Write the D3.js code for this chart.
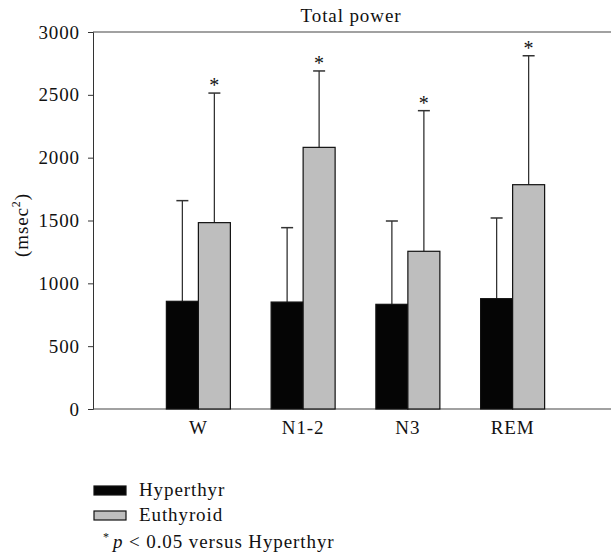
<!DOCTYPE html>
<html>
<head>
<meta charset="utf-8">
<script src="https://cdn.jsdelivr.net/npm/d3@7"></script>
<style>
  body { margin: 0; background: #fff; }
  text { font-family: "Liberation Serif", "DejaVu Serif", serif; fill: #111; letter-spacing: 0.9px; }
</style>
</head>
<body>
<div id="chart"></div>
<script>
// data
var stages = ["W", "N1-2", "N3", "REM"];
var hyperMean = [857, 851, 833, 878];
var hyperSD   = [801, 592, 663, 642];
var euthMean  = [1483, 2082, 1255, 1785];
var euthSD    = [1031, 608, 1119, 1026];
var yTicks = [0, 500, 1000, 1500, 2000, 2500, 3000];
var seriesNames = ["Hyperthyr", "Euthyroid"];
var seriesColors = ["#050505", "#bebebe"];

var W = 611, H = 556;
var fs = "19px";
var svg = d3.select("#chart").append("svg")
  .attr("width", W).attr("height", H);

// scales
var y = d3.scaleLinear().domain([0, 3000]).range([409, 32]);
var x = d3.scaleBand().domain(stages).range([146, 565])
  .paddingInner(0.389).paddingOuter(0.1945);
var xSub = d3.scaleBand().domain(seriesNames).range([0, x.bandwidth()]);

// axes
var yAxis = svg.append("g")
  .attr("transform", "translate(93,0)")
  .call(d3.axisLeft(y).tickValues(yTicks).tickSize(5).tickPadding(8).tickFormat(d3.format("d")));
yAxis.selectAll("text").style("font-size", fs).attr("font-family", null);
yAxis.select(".domain").attr("stroke", "#333");
yAxis.selectAll(".tick line").attr("stroke", "#333");

// top and bottom frame lines
svg.append("line").attr("x1", 93).attr("x2", 611).attr("y1", y(3000)).attr("y2", y(3000))
  .attr("stroke", "#444").attr("stroke-width", 1.2);
svg.append("line").attr("x1", 93).attr("x2", 611).attr("y1", y(0)).attr("y2", y(0))
  .attr("stroke", "#444").attr("stroke-width", 1.2);

// bars
var rows = stages.map(function(s, i) {
  return [
    {stage: s, key: "Hyperthyr", mean: hyperMean[i], sd: hyperSD[i]},
    {stage: s, key: "Euthyroid", mean: euthMean[i], sd: euthSD[i]}
  ];
});

var groups = svg.append("g").selectAll("g")
  .data(rows).enter().append("g")
  .attr("transform", function(d) { return "translate(" + x(d[0].stage) + ",0)"; });

// error bars (upper only)
var err = groups.selectAll("g.err").data(function(d) { return d; }).enter().append("g")
  .attr("class", "err");
err.append("line")
  .attr("x1", function(d) { return xSub(d.key) + xSub.bandwidth() / 2; })
  .attr("x2", function(d) { return xSub(d.key) + xSub.bandwidth() / 2; })
  .attr("y1", function(d) { return y(d.mean); })
  .attr("y2", function(d) { return y(d.mean + d.sd); })
  .attr("stroke", "#333").attr("stroke-width", 1.3);
err.append("line")
  .attr("x1", function(d) { return xSub(d.key) + xSub.bandwidth() / 2 - 6; })
  .attr("x2", function(d) { return xSub(d.key) + xSub.bandwidth() / 2 + 6; })
  .attr("y1", function(d) { return y(d.mean + d.sd); })
  .attr("y2", function(d) { return y(d.mean + d.sd); })
  .attr("stroke", "#333").attr("stroke-width", 1.5);

groups.selectAll("rect").data(function(d) { return d; }).enter().append("rect")
  .attr("x", function(d) { return xSub(d.key); })
  .attr("y", function(d) { return y(d.mean); })
  .attr("width", xSub.bandwidth())
  .attr("height", function(d) { return y(0) - y(d.mean); })
  .attr("fill", function(d, i) { return seriesColors[i]; })
  .attr("stroke", "#111").attr("stroke-width", 1.2);

// significance stars on euthyroid bars
groups.append("text")
  .attr("x", xSub("Euthyroid") + xSub.bandwidth() / 2)
  .attr("y", function(d) { return y(d[1].mean + d[1].sd) - 1; })
  .attr("text-anchor", "middle")
  .style("font-size", "20px")
  .style("letter-spacing", "0px")
  .text("*");

// x labels
svg.selectAll("text.xlab").data(stages).enter().append("text")
  .attr("class", "xlab")
  .attr("x", function(d) { return x(d) + x.bandwidth() / 2; })
  .attr("y", 434)
  .attr("text-anchor", "middle")
  .style("font-size", fs)
  .text(function(d) { return d; });

// title
svg.append("text")
  .attr("x", 351).attr("y", 22)
  .attr("text-anchor", "middle")
  .style("font-size", fs)
  .text("Total power");

// y label
var yl = svg.append("text")
  .attr("transform", "translate(28,225)rotate(-90)")
  .attr("text-anchor", "middle")
  .style("font-size", fs);
yl.append("tspan").text("(msec");
yl.append("tspan").attr("dy", -8).style("font-size", "12px").text("2");
yl.append("tspan").attr("dy", 8).text(")");

// legend
var legend = svg.append("g");
seriesNames.forEach(function(name, i) {
  legend.append("rect")
    .attr("x", 94).attr("y", 486 + i * 25)
    .attr("width", 32).attr("height", 9)
    .attr("fill", seriesColors[i]).attr("stroke", "#111").attr("stroke-width", 1.2);
  legend.append("text")
    .attr("x", 139).attr("y", 496 + i * 25)
    .style("font-size", fs)
    .text(name);
});
var note = legend.append("text").attr("x", 103).attr("y", 548).style("font-size", fs);
note.append("tspan").attr("dy", -7).style("font-size", "12px").text("*");
note.append("tspan").attr("dy", 7).attr("dx", 3).style("font-style", "italic").text("p");
note.append("tspan").text(" < 0.05 versus Hyperthyr");
</script>
</body>
</html>
